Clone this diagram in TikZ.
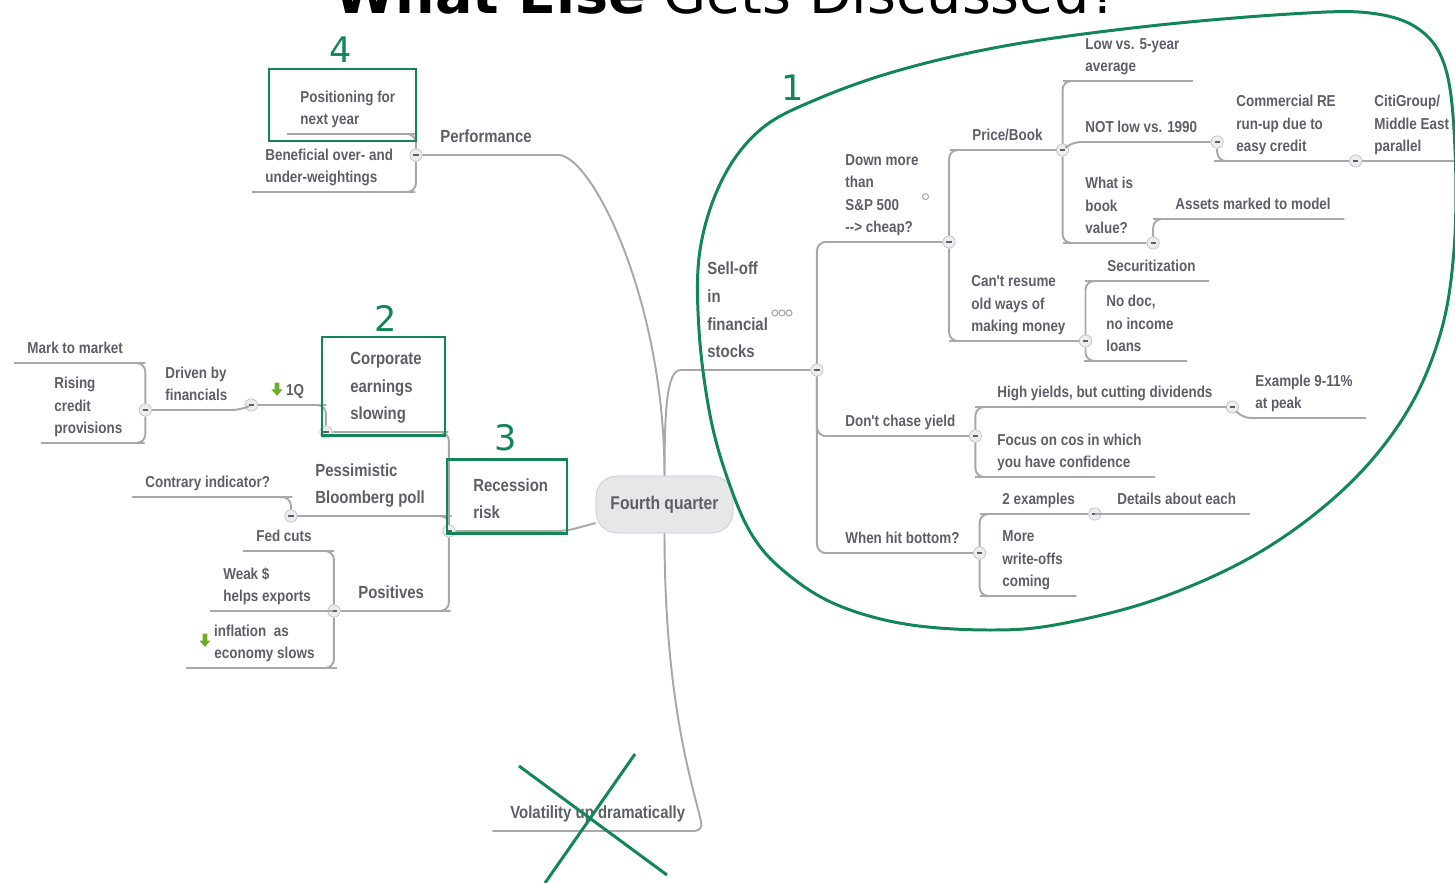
\documentclass[tikz,border=0pt]{standalone}
\usepackage{fontspec}
\usetikzlibrary{positioning}
\newfontfamily\mapfont{Liberation Sans}[FakeStretch=0.85]
\newfontfamily\slidefont{DejaVu Sans}
\definecolor{inkGray}{RGB}{92,96,102}
\definecolor{lineGray}{RGB}{168,168,168}
\definecolor{knobFill}{RGB}{236,237,238}
\definecolor{knobLine}{RGB}{190,192,195}
\definecolor{hubFill}{RGB}{229,231,233}
\definecolor{hubLine}{RGB}{200,202,205}
\definecolor{markGreen}{RGB}{18,134,86}
\definecolor{leafGreen}{RGB}{112,172,40}
\newcommand{\dnarrow}{\tikz[x=1pt,y=1pt]\fill[leafGreen] (-1.3,7.5) -- (1.3,7.5) -- (1.3,3.6) -- (3.2,3.6) -- (0,0) -- (-3.2,3.6) -- (-1.3,3.6) -- cycle;}
\newcommand{\noteicon}{\tikz[x=1pt,y=1pt]\draw[lineGray,line width=0.6pt] (0,0) circle (1.7);}

\begin{document}
\begin{tikzpicture}[x=0.02cm,y=-0.02cm,
  lbl/.style={anchor=south west,text=inkGray,align=left,execute at end node=\strut},
  topic/.style={lbl,font=\mapfont\bfseries\fontsize{9}{12.8}\selectfont,inner xsep=7.5pt,inner ysep=1.2pt,xshift=-7.5pt},
  major/.style={lbl,font=\mapfont\bfseries\fontsize{10}{15.9}\selectfont,inner xsep=10pt,inner ysep=1.9pt,xshift=-10pt},
  hub/.style={draw=hubLine,fill=hubFill,rounded corners=12pt,minimum width=2.74cm,minimum height=1.14cm,text=inkGray,font=\mapfont\bfseries\fontsize{10.5}{12}\selectfont},
  knob/.style={circle,draw=knobLine,fill=knobFill,minimum size=7pt,inner sep=0pt,path picture={\draw[inkGray,line width=0.8pt] ([xshift=-1.5pt]path picture bounding box.center) -- ([xshift=1.5pt]path picture bounding box.center);}},
  link/.style={draw=lineGray,line width=1.1pt,rounded corners=5pt},
  hilite/.style={draw=markGreen,line width=1.7pt},
  num/.style={text=markGreen,inner sep=0pt,font=\slidefont\fontsize{20}{20}\selectfont}]
\useasboundingbox (0,0) rectangle (1455,883);
\node[anchor=base west,inner sep=0pt,font=\slidefont\fontsize{31.6}{32}\selectfont] (title) at (334,13) {\textbf{What Else} Gets Discussed?};
\node[hub] (cq) at (664.5,504.5) {Fourth quarter};
\node[major] (perf) at (440,155) {Performance};
\node[topic] (nxt) at (300,134) {Positioning for\\next year};
\node[topic] (bene) at (265,192) {Beneficial over- and\\under-weightings};
\node[major] (rec) at (473,531) {Recession\\risk};
\node[major] (corp) at (350,432) {Corporate\\earnings\\slowing};
\node[topic] (q1) at (271,405) {\dnarrow\hspace{2pt}1Q};
\node[topic] (drv) at (165,410) {Driven by\\financials};
\node[topic] (mtm) at (27,363) {Mark to market};
\node[topic] (ris) at (54,443) {Rising\\credit\\provisions};
\node[major] (pess) at (315,516) {Pessimistic\\Bloomberg poll};
\node[topic] (contra) at (145,497) {Contrary indicator?};
\node[major] (posi) at (358,611) {Positives};
\node[topic] (fed) at (256,551) {Fed cuts};
\node[topic] (weak) at (223,611) {Weak \$\\helps exports};
\node[topic] (infl) at (199,668) {\smash{\raisebox{-6pt}{\dnarrow}}\hspace{2pt}inflation\ \ as\\\hspace*{8.6pt}economy slows};
\node[major] (vol) at (510,831) {Volatility up dramatically};
\node[major] (sell) at (707,370) {Sell-off\\in\\financial\hspace{2pt}\smash{\raisebox{7.7pt}{\noteicon\noteicon\noteicon}}\\stocks};
\node[topic] (down) at (845,242) {Down more\\than\\S\&P 500\hspace{13pt}\smash{\raisebox{5.8pt}{\noteicon}}\\{-}{-}> cheap?};
\node[topic] (chase) at (845,436) {Don't chase yield};
\node[topic] (bottom) at (845,553) {When hit bottom?};
\node[topic] (pb) at (972,150) {Price/Book};
\node[topic] (cant) at (971,341) {Can't resume\\old ways of\\making money};
\node[topic] (low5) at (1085,81) {Low vs. 5-year\\average};
\node[topic] (notlow) at (1085,142) {NOT low vs. 1990};
\node[topic] (book) at (1085,243) {What is\\book\\value?};
\node[topic] (cre) at (1236,161) {Commercial RE\\run-up due to\\easy credit};
\node[topic] (citi) at (1374,161) {CitiGroup/\\Middle East\\parallel};
\node[topic] (assets) at (1175,219) {Assets marked to model};
\node[topic] (secur) at (1107,281) {Securitization};
\node[topic] (nodoc) at (1106,361) {No doc,\\no income\\loans};
\node[topic] (hiy) at (997,407) {High yields, but cutting dividends};
\node[topic] (focus) at (997,477) {Focus on cos in which\\you have confidence};
\node[topic] (ex) at (1255,418) {Example 9-11\%\\at peak};
\node[topic] (two) at (1002,514) {2 examples};
\node[topic] (wo) at (1002,596) {More\\write-offs\\coming};
\node[topic] (det) at (1117,514) {Details about each};
\node[knob,left=0pt of perf.south west] (perf-c) {};
\node[knob,left=0pt of rec.south west] (rec-c) {};
\node[knob,left=0pt of corp.south west] (corp-c) {};
\node[knob,left=0pt of q1.south west] (q1-c) {};
\node[knob,left=0pt of drv.south west] (drv-c) {};
\node[knob,left=0pt of pess.south west] (pess-c) {};
\node[knob,left=0pt of posi.south west] (posi-c) {};
\node[knob,right=0pt of sell.south east] (sell-c) {};
\node[knob,right=0pt of down.south east] (down-c) {};
\node[knob,right=0pt of pb.south east] (pb-c) {};
\node[knob,right=0pt of notlow.south east] (notlow-c) {};
\node[knob,right=0pt of cre.south east] (cre-c) {};
\node[knob,right=0pt of book.south east] (book-c) {};
\node[knob,right=0pt of cant.south east] (cant-c) {};
\node[knob,right=0pt of chase.south east] (chase-c) {};
\node[knob,right=0pt of hiy.south east] (hiy-c) {};
\node[knob,right=0pt of bottom.south east] (bottom-c) {};
\node[knob,right=0pt of two.south east] (two-c) {};
\draw[link] (cq.north) .. controls +(0,-176) and +(42,0) .. (perf.south east) -- (perf.south west);
\draw[link] (cq.north) .. controls +(0,-70) and +(-22,0) .. (sell.south west) -- (sell.south east);
\draw[link] (cq.south) .. controls +(0,170) and +(-10,-45) .. (vol.south east) -- (vol.south west);
\draw[link] (cq) -- (rec.south east) -- (rec.south west);
\draw[link] (perf-c) |- (nxt.south east) -- (nxt.south west);
\draw[link] (perf-c) |- (bene.south east) -- (bene.south west);
\draw[link] (rec-c) |- (corp.south east) -- (corp.south west);
\draw[link] (rec-c) |- (pess.south east) -- (pess.south west);
\draw[link] (rec-c) |- (posi.south east) -- (posi.south west);
\draw[link] (corp-c) |- (q1.south east) -- (q1.south west);
\draw[link] (q1-c) -- (drv.south east) -- (drv.south west);
\draw[link] (drv-c) |- (mtm.south east) -- (mtm.south west);
\draw[link] (drv-c) |- (ris.south east) -- (ris.south west);
\draw[link] (pess-c) |- (contra.south east) -- (contra.south west);
\draw[link] (posi-c) |- (fed.south east) -- (fed.south west);
\draw[link] (posi-c) -- (weak.south east) -- (weak.south west);
\draw[link] (posi-c) |- (infl.south east) -- (infl.south west);
\draw[link] (sell-c) |- (down.south west) -- (down.south east);
\draw[link] (sell-c) |- (chase.south west) -- (chase.south east);
\draw[link] (sell-c) |- (bottom.south west) -- (bottom.south east);
\draw[link] (down-c) |- (pb.south west) -- (pb.south east);
\draw[link] (down-c) |- (cant.south west) -- (cant.south east);
\draw[link] (pb-c) |- (low5.south west) -- (low5.south east);
\draw[link] (pb-c) -- (notlow.south west) -- (notlow.south east);
\draw[link] (pb-c) |- (book.south west) -- (book.south east);
\draw[link] (notlow-c) |- (cre.south west) -- (cre.south east);
\draw[link] (cre-c) -- (citi.south west) -- (citi.south east);
\draw[link] (book-c) |- (assets.south west) -- (assets.south east);
\draw[link] (cant-c) |- (secur.south west) -- (secur.south east);
\draw[link] (cant-c) |- (nodoc.south west) -- (nodoc.south east);
\draw[link] (chase-c) |- (hiy.south west) -- (hiy.south east);
\draw[link] (chase-c) |- (focus.south west) -- (focus.south east);
\draw[link] (hiy-c) -- (ex.south west) -- (ex.south east);
\draw[link] (bottom-c) |- (two.south west) -- (two.south east);
\draw[link] (bottom-c) |- (wo.south west) -- (wo.south east);
\draw[link] (two-c) -- (det.south west) -- (det.south east);
\draw[hilite] plot[smooth cycle,tension=0.6] coordinates {(700,250) (722,180) (760,130) (815,100) (900,70) (1010,45) (1150,26) (1290,14) (1370,13) (1420,30) (1446,70) (1455,150) (1454,250) (1440,335) (1405,415) (1345,488) (1260,552) (1160,598) (1060,624) (990,630) (905,624) (835,604) (785,572) (752,535) (728,480) (710,415) (699,330)};
\draw[hilite] (269,69) rectangle (416,141);
\draw[hilite] (322,337) rectangle (445,435);
\draw[hilite] (447,459) rectangle (567,533);
\draw[hilite] (519,766) -- (667,875);
\draw[hilite] (635,754) -- (545,883);
\node[num] (n1) at (793,88) {1};
\node[num] (n2) at (386,318) {2};
\node[num] (n3) at (506,438) {3};
\node[num] (n4) at (341,50) {4};
\end{tikzpicture}
\end{document}
